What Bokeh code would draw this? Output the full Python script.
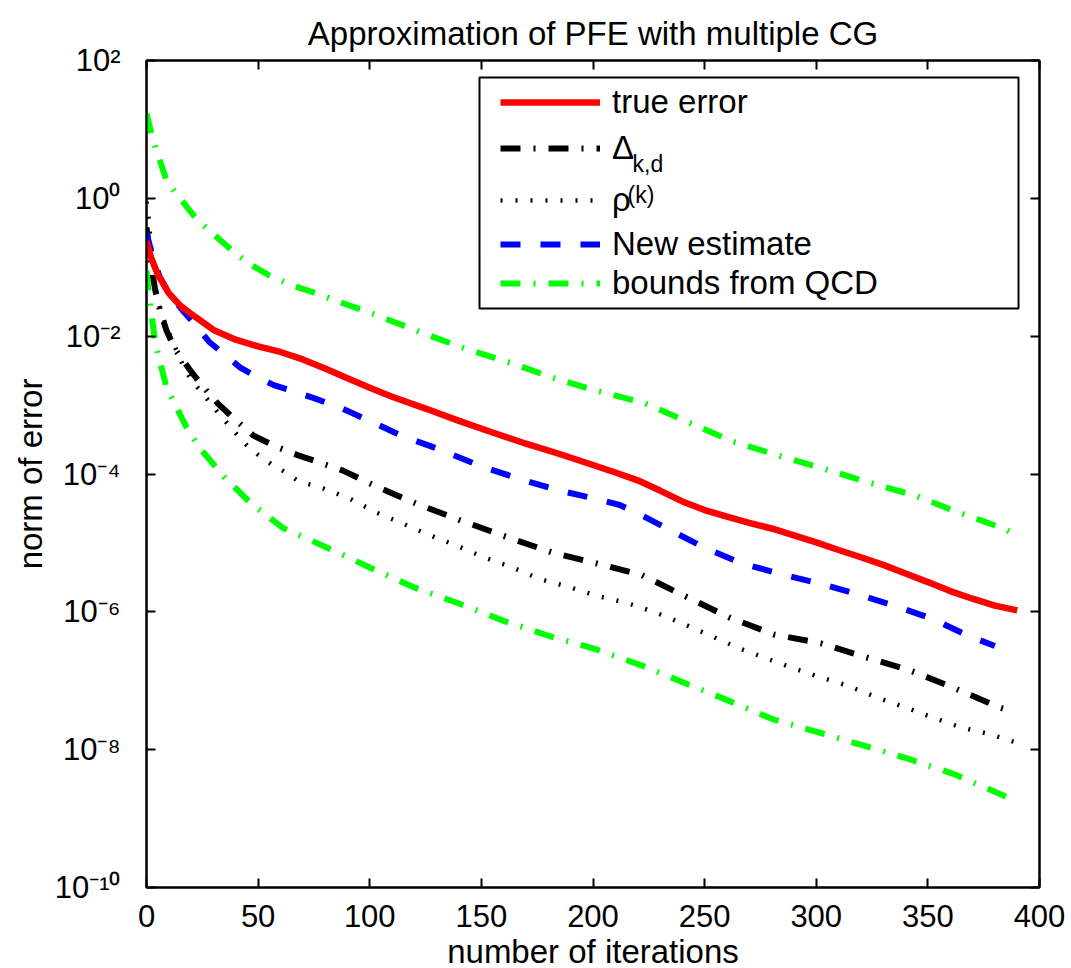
from bokeh.plotting import figure
from bokeh.models import (LogAxis, LinearAxis, FixedTicker, Legend, LegendItem,
                          BoxAnnotation, Label, CustomJSTickFormatter, Range1d)
from bokeh.embed import file_html
from bokeh.resources import INLINE

# ---------------- data ----------------
x_ticks = [0, 50, 100, 150, 200, 250, 300, 350, 400]
y_ticks = [1e2, 1e0, 1e-2, 1e-4, 1e-6, 1e-8, 1e-10]
y_tick_labels = ["10\u00b2", "10\u2070", "10\u207b\u00b2", "10\u207b\u2074",
                 "10\u207b\u2076", "10\u207b\u2078", "10\u207b\u00b9\u2070"]

true_x = [0, 2, 5, 10, 15, 20, 30, 40, 50, 60, 70, 80, 90, 100, 110, 125, 140, 155,
          170, 185, 200, 210, 220, 230, 240, 250, 260, 270, 280, 290, 300, 310, 320,
          330, 340, 350, 360, 370, 380, 390]
true_err = [0.24, 0.14, 0.079, 0.042, 0.028, 0.021, 0.0123, 0.0089, 0.0071, 0.0059,
            0.0046, 0.0034, 0.00245, 0.00178, 0.00132, 8.9e-4, 5.9e-4, 4.0e-4, 2.75e-4,
            1.95e-4, 1.35e-4, 1.05e-4, 8.1e-5, 5.75e-5, 4.0e-5, 3.0e-5, 2.4e-5, 1.95e-5,
            1.62e-5, 1.29e-5, 1.02e-5, 7.9e-6, 6.2e-6, 4.8e-6, 3.6e-6, 2.7e-6, 2.0e-6,
            1.55e-6, 1.23e-6, 1.05e-6]

delta_x = [0, 2, 4, 6, 9, 13, 19, 25, 32, 40, 48, 58, 68, 78, 88, 102, 121, 141, 162,
           182, 202, 222, 241, 261, 281, 302, 322, 342, 362, 382, 389]
delta_kd = [0.38, 0.112, 0.045, 0.024, 0.012, 0.0063, 0.0034, 0.0019, 0.00105, 6.0e-4,
            3.6e-4, 2.5e-4, 1.86e-4, 1.45e-4, 1.12e-4, 6.8e-5, 3.7e-5, 2.1e-5, 1.2e-5,
            7.2e-6, 5.0e-6, 3.4e-6, 1.7e-6, 8.3e-7, 4.7e-7, 3.5e-7, 2.2e-7, 1.41e-7,
            7.8e-8, 4.1e-8, 3.5e-8]

rho_x = [0, 1, 2.5, 5, 8, 12, 16, 20, 25, 32, 38, 45, 50, 56, 62, 68, 79, 91, 103, 115,
         127, 139, 151, 164, 176, 190, 202, 215, 228, 240, 252, 265, 277, 289, 302, 314,
         327, 340, 352, 365, 377, 390]
rho_k = [0.89, 0.50, 0.126, 0.032, 0.0166, 0.0079, 0.0040, 0.0023, 0.0015, 7.8e-4,
         4.6e-4, 2.6e-4, 1.9e-4, 1.38e-4, 1.07e-4, 7.9e-5, 6.2e-5, 4.4e-5, 2.75e-5,
         1.9e-5, 1.29e-5, 9.1e-6, 6.2e-6, 4.4e-6, 3.0e-6, 2.25e-6, 1.7e-6, 1.35e-6,
         9.8e-7, 6.8e-7, 4.6e-7, 3.0e-7, 2.15e-7, 1.55e-7, 1.12e-7, 8.5e-8, 5.75e-8,
         4.1e-8, 2.95e-8, 2.1e-8, 1.7e-8, 1.26e-8]

new_x = [0, 3, 6, 10, 16, 22, 28, 35, 42, 50, 57, 65, 75, 87, 100, 115, 130, 150, 168,
         185, 202, 212, 220, 235, 250, 267, 284, 301, 318, 335, 352, 368, 380]
new_est = [0.32, 0.13, 0.072, 0.042, 0.024, 0.0145, 0.0083, 0.0054, 0.0035, 0.0025,
           0.00195, 0.00162, 0.00126, 9.1e-4, 5.9e-4, 3.5e-4, 2.35e-4, 1.29e-4, 8.3e-5,
           5.75e-5, 4.3e-5, 3.55e-5, 2.7e-5, 1.51e-5, 8.5e-6, 5.0e-6, 3.55e-6, 2.6e-6,
           1.82e-6, 1.23e-6, 7.9e-7, 4.5e-7, 3.2e-7]

up_x = [0, 3, 9, 15, 22, 30, 38, 46, 55, 65, 75, 88, 100, 121, 141, 162, 182, 202, 223,
        243, 262, 283, 303, 323, 344, 364, 384, 388]
qcd_upper = [17, 6.9, 1.8, 1.0, 0.52, 0.30, 0.18, 0.112, 0.076, 0.055, 0.043, 0.030,
             0.022, 0.012, 0.0069, 0.0042, 0.0025, 0.0016, 0.00107, 5.6e-4, 3.0e-4,
             1.86e-4, 1.2e-4, 7.6e-5, 4.9e-5, 2.75e-5, 1.62e-5, 1.38e-5]

low_x = [0, 1, 4, 9, 18, 24, 35, 47, 61, 81, 100, 120, 140, 160, 180, 200, 222, 241,
         261, 280, 301, 321, 341, 361, 382, 386]
qcd_lower = [0.089, 0.040, 0.0078, 0.00178, 4.7e-4, 2.35e-4, 8.9e-5, 3.7e-5, 1.66e-5,
             8.5e-6, 4.4e-6, 2.25e-6, 1.32e-6, 7.4e-7, 4.5e-7, 2.95e-7, 1.66e-7, 9.3e-8,
             5.1e-8, 2.8e-8, 1.78e-8, 1.15e-8, 7.4e-9, 4.5e-9, 2.3e-9, 2.0e-9]

FONT = "Liberation Sans"

# ---------------- figure ----------------
p = figure(frame_width=893, frame_height=827, y_axis_type="log",
           x_range=Range1d(0, 400), y_range=Range1d(1e-10, 1e2),
           output_backend="svg", toolbar_location=None,
           min_border_left=146, min_border_right=32, min_border_top=60,
           min_border_bottom=81, background_fill_color="white",
           border_fill_color="white")
p.xgrid.visible = False
p.ygrid.visible = False
p.outline_line_color = "black"
p.outline_line_width = 2

p.title.text = "Approximation of PFE with multiple CG"
p.title.text_font = FONT
p.title.text_font_size = "33px"
p.title.text_font_style = "normal"
p.title.text_color = "black"
p.title.align = "center"
p.title.vertical_align = "top"
p.title.standoff = 14

# bottom axis
xa = p.xaxis[0]
xa.ticker = FixedTicker(ticks=x_ticks)
xa.axis_label = "number of iterations"
# left axis
ya = p.yaxis[0]
ya.ticker = FixedTicker(ticks=y_ticks)
ya.major_label_overrides = dict(zip(y_ticks, y_tick_labels))
ya.axis_label = "norm of error"

top_ax = LinearAxis(ticker=FixedTicker(ticks=x_ticks),
                    formatter=CustomJSTickFormatter(code="return ''"))
right_ax = LogAxis(ticker=FixedTicker(ticks=y_ticks),
                   formatter=CustomJSTickFormatter(code="return ''"))
p.add_layout(top_ax, "above")
p.add_layout(right_ax, "right")

for ax in (xa, ya, top_ax, right_ax):
    ax.major_tick_in = 9
    ax.major_tick_out = 0
    ax.minor_tick_line_color = None
    ax.axis_line_width = 2
    ax.major_tick_line_width = 2
    ax.major_label_text_font = FONT
    ax.major_label_text_font_size = "31px"
    ax.major_label_text_color = "black"
    ax.axis_label_text_font = FONT
    ax.axis_label_text_font_size = "33px"
    ax.axis_label_text_font_style = "normal"
    ax.axis_label_text_color = "black"
for ax in (top_ax, right_ax):
    ax.major_label_text_font_size = "0px"
    ax.major_label_standoff = 0
xa.major_label_standoff = 17
xa.axis_label_standoff = 3
ya.major_label_standoff = 26
ya.axis_label_standoff = 3

# ---------------- series ----------------
r_green_hi = p.line(up_x, qcd_upper, line_color="#00FF00", line_width=6,
                    line_dash="20 13 2 13")
r_green_lo = p.line(low_x, qcd_lower, line_color="#00FF00", line_width=6,
                    line_dash="20 13 2 13")
r_rho = p.line(rho_x, rho_k, line_color="black", line_width=4.5, line_dash="2 13")
r_delta = p.line(delta_x, delta_kd, line_color="black", line_width=6,
                 line_dash="20 13 2 13")
r_new = p.line(new_x, new_est, line_color="#0000FF", line_width=6, line_dash="20 20")
r_true = p.line(true_x, true_err, line_color="#FF0000", line_width=6.5)

# ---------------- legend ----------------
p.add_layout(BoxAnnotation(left=333, right=872, top=810, bottom=579,
                           left_units="screen", right_units="screen",
                           top_units="screen", bottom_units="screen",
                           fill_color="white", fill_alpha=1.0,
                           line_color="black", line_width=2, line_alpha=1.0))

rows = [(r_true, "true error", 102), (r_delta, "\u0394", 148), (r_rho, "\u03c1", 200),
        (r_new, "New estimate", 244), (r_green_hi, "bounds from QCD", 283)]
for r, lab, yc in rows:
    lg = Legend(items=[LegendItem(label=lab, renderers=[r])],
                location=(354, 887 - yc - 20), padding=0, margin=0, spacing=0,
                glyph_width=100, glyph_height=40, label_height=40,
                label_standoff=12, border_line_color=None,
                background_fill_alpha=0, label_text_font=FONT,
                label_text_font_size="33px", label_text_color="black")
    p.add_layout(lg)

p.add_layout(Label(x=486, y=724, x_units="screen", y_units="screen", text="k,d",
                   text_font=FONT, text_font_size="23px", text_baseline="middle",
                   text_color="black"))
p.add_layout(Label(x=481, y=693, x_units="screen", y_units="screen", text="(k)",
                   text_font=FONT, text_font_size="23px", text_baseline="middle",
                   text_color="black"))

open("out.html", "w").write(file_html(p, INLINE))
